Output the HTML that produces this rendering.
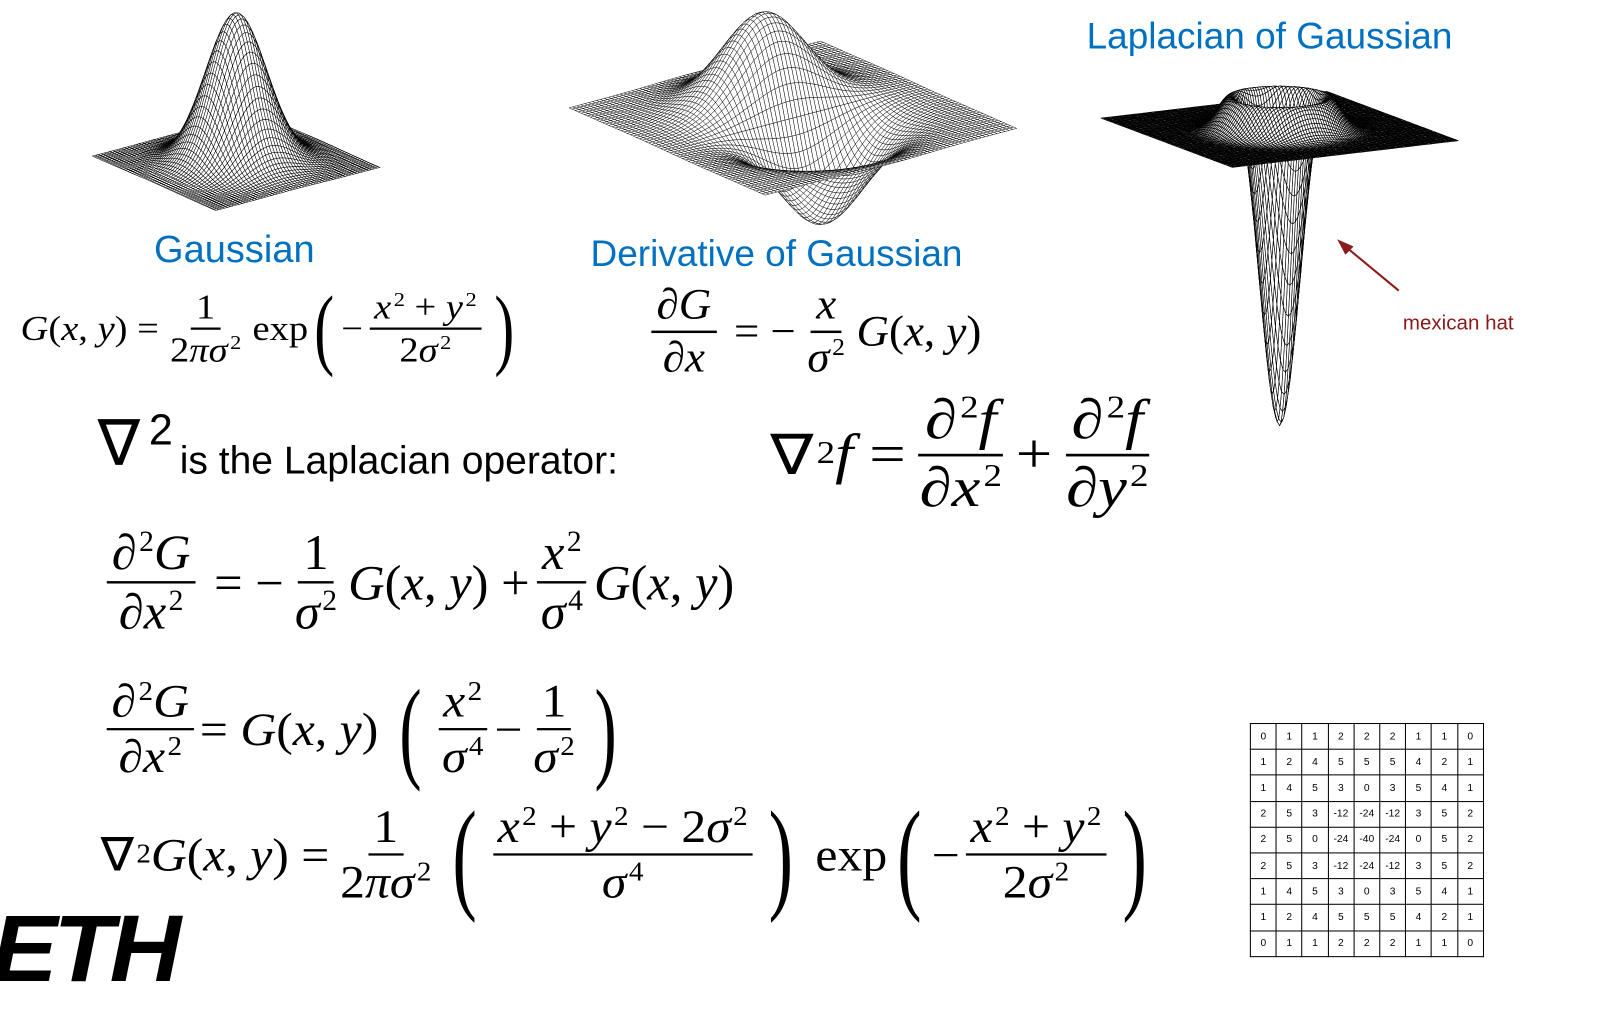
<!DOCTYPE html>
<html><head><meta charset="utf-8">
<style>
body{margin:0;width:1607px;height:984px;background:#fff;position:relative;overflow:hidden;font-family:"Liberation Serif",serif}
#w{position:absolute;left:0;top:0;width:1607px;height:984px;transform:scale(1.027);transform-origin:0 0}
.abs{position:absolute;white-space:nowrap}
.t{font-family:"Liberation Sans",sans-serif;color:#0070c0}
.m{font-family:"Liberation Serif",serif;display:flex;align-items:center;color:#000;transform-origin:left center}
.m i{font-style:italic}
.m sup{margin-left:2px}
.fr{display:inline-flex;flex-direction:column;align-items:center;margin:0 5px}
.fr>span{padding:0 4px;line-height:1.15}
.fr>span:first-child{border-bottom:2px solid #000}
.p{display:inline-block;font-weight:100}
table{border-collapse:collapse;font-family:"Liberation Sans",sans-serif;font-size:10px}
td{border:1.3px solid #000;width:24.2px;height:24.2px;text-align:center;padding:0}
</style></head><body>
<div id="w">
<svg id="sv" width="1607" height="984" style="position:absolute;left:0;top:0"></svg>

<div class="abs t" style="left:150px;top:222px;font-size:37px">Gaussian</div>
<div class="abs t" style="left:575px;top:226px;font-size:36px">Derivative of Gaussian</div>
<div class="abs t" style="left:1058px;top:14px;font-size:36px">Laplacian of Gaussian</div>
<div class="abs" style="left:1366px;top:304px;font-size:20px;color:#8b1a1a;font-family:'Liberation Sans',sans-serif">mexican hat</div>

<div class="abs m" style="left:20px;top:275px;height:90px;font-size:31px;transform:scale(1.21,1.1)">
<i>G</i>(<i>x</i>,&nbsp;<i>y</i>)&nbsp;=<span class="fr"><span>1</span><span>2<i>πσ</i><sup style="font-size:18px">2</sup></span></span>exp<span class="p" style="font-size:80px;transform:scaleX(.6)">(</span>−<span class="fr"><span><i>x</i><sup style="font-size:18px">2</sup> + <i>y</i><sup style="font-size:18px">2</sup></span><span>2<i>σ</i><sup style="font-size:18px">2</sup></span></span><span class="p" style="font-size:80px;transform:scaleX(.6)">)</span></div>

<div class="abs m" style="left:628px;top:275px;height:95px;font-size:35px;transform:scale(1.25,1.2)">
<span class="fr"><span>∂<i>G</i></span><span>∂<i>x</i></span></span>&nbsp;=&nbsp;−<span class="fr"><span><i>x</i></span><span><i>σ</i><sup style="font-size:20px">2</sup></span></span><i>G</i>(<i>x</i>,&nbsp;<i>y</i>)</div>

<div class="abs" style="left:95px;top:395px;font-size:62px;font-family:'DejaVu Sans',sans-serif">∇</div>
<div class="abs" style="left:145px;top:395px;font-size:42px;font-family:'Liberation Sans',sans-serif">2</div>
<div class="abs" style="left:175px;top:428px;font-size:38px;font-family:'Liberation Sans',sans-serif">is the Laplacian operator:</div>

<div class="abs m" style="left:750px;top:385px;height:115px;font-size:42px;transform:scale(1.5,1.3)">
∇<sup style="font-size:24px">2</sup><i>f</i>&nbsp;=<span class="fr"><span>∂<sup style="font-size:24px">2</sup><i>f</i></span><span>∂<i>x</i><sup style="font-size:24px">2</sup></span></span>+<span class="fr"><span>∂<sup style="font-size:24px">2</sup><i>f</i></span><span>∂<i>y</i><sup style="font-size:24px">2</sup></span></span></div>

<div class="abs m" style="left:98px;top:512px;height:110px;font-size:41px;transform:scale(1.2,1.18)">
<span class="fr"><span>∂<sup style="font-size:24px">2</sup><i>G</i></span><span>∂<i>x</i><sup style="font-size:24px">2</sup></span></span>&nbsp;=&nbsp;−<span class="fr"><span>1</span><span><i>σ</i><sup style="font-size:24px">2</sup></span></span><i>G</i>(<i>x</i>,&nbsp;<i>y</i>)&nbsp;+<span class="fr"><span><i>x</i><sup style="font-size:24px">2</sup></span><span><i>σ</i><sup style="font-size:24px">4</sup></span></span><i>G</i>(<i>x</i>,&nbsp;<i>y</i>)</div>

<div class="abs m" style="left:98px;top:655px;height:110px;font-size:41px;transform:scale(1.18,1.1)">
<span class="fr"><span>∂<sup style="font-size:24px">2</sup><i>G</i></span><span>∂<i>x</i><sup style="font-size:24px">2</sup></span></span>=&nbsp;<i>G</i>(<i>x</i>,&nbsp;<i>y</i>)&nbsp;<span class="p" style="font-size:100px;transform:scaleX(.55)">(</span><span class="fr"><span><i>x</i><sup style="font-size:24px">2</sup></span><span><i>σ</i><sup style="font-size:24px">4</sup></span></span>−<span class="fr"><span>1</span><span><i>σ</i><sup style="font-size:24px">2</sup></span></span><span class="p" style="font-size:100px;transform:scaleX(.55)">)</span></div>

<div class="abs m" style="left:98px;top:772px;height:120px;font-size:41px;transform:scale(1.18,1.1)">
∇<sup style="font-size:24px">2</sup><i>G</i>(<i>x</i>,&nbsp;<i>y</i>)&nbsp;=<span class="fr"><span>1</span><span>2<i>πσ</i><sup style="font-size:24px">2</sup></span></span><span class="p" style="font-size:110px;transform:scaleX(.55)">(</span><span class="fr"><span><i>x</i><sup style="font-size:24px">2</sup> + <i>y</i><sup style="font-size:24px">2</sup> − 2<i>σ</i><sup style="font-size:24px">2</sup></span><span><i>σ</i><sup style="font-size:24px">4</sup></span></span><span class="p" style="font-size:110px;transform:scaleX(.55)">)</span>&nbsp;exp<span class="p" style="font-size:110px;transform:scaleX(.55)">(</span>−<span class="fr"><span><i>x</i><sup style="font-size:24px">2</sup> + <i>y</i><sup style="font-size:24px">2</sup></span><span>2<i>σ</i><sup style="font-size:24px">2</sup></span></span><span class="p" style="font-size:110px;transform:scaleX(.55)">)</span></div>

<div class="abs" style="left:-4px;top:872px;font-size:92px;font-weight:bold;font-style:italic;font-family:'Liberation Sans',sans-serif;transform:scaleX(1.05);letter-spacing:-4px">ETH</div>

<div class="abs" style="left:1217px;top:704px">
<table id="tb"></table></div>
</div>
<script>
var g=[[0,1,1,2,2,2,1,1,0],[1,2,4,5,5,5,4,2,1],[1,4,5,3,0,3,5,4,1],[2,5,3,-12,-24,-12,3,5,2],[2,5,0,-24,-40,-24,0,5,2],[2,5,3,-12,-24,-12,3,5,2],[1,4,5,3,0,3,5,4,1],[1,2,4,5,5,5,4,2,1],[0,1,1,2,2,2,1,1,0]];
document.getElementById('tb').innerHTML=g.map(r=>'<tr>'+r.map(v=>'<td>'+v+'</td>').join('')+'</tr>').join('');
var sv=document.getElementById('sv'),out='';
function surf(cx,cy,a,b,c,d,f,N,sw){
 var P=[];for(var i=0;i<=N;i++){P[i]=[];for(var j=0;j<=N;j++){var u=-1+2*i/N,v=-1+2*j/N;P[i][j]=[cx+a*u+b*v,cy+c*u+d*v-f(u,v),c*u+d*v];}}
 var Q=[];for(var i=0;i<N;i++)for(var j=0;j<N;j++){var p=[P[i][j],P[i+1][j],P[i+1][j+1],P[i][j+1]];Q.push([(p[0][2]+p[2][2])/2,p]);}
 Q.sort((x,y)=>x[0]-y[0]);
 Q.forEach(q=>{out+='<polygon points="'+q[1].map(p=>p[0].toFixed(1)+','+p[1].toFixed(1)).join(' ')+'"/>';});
 return '<g fill="#fff" stroke="#000" stroke-width="'+sw+'">'+out+'</g>';
}
var s='';
out='';s+=surf(230,157.5,60,-80,26.5,21,(u,v)=>145*Math.exp(-(u*u+v*v)/(2*.09)),56,0.5);
out='';s+=surf(772,115,95.5,-122.5,42.5,32.5,(u,v)=>-90*u/.3*Math.exp(.5)*Math.exp(-(u*u+v*v)/(2*.09)),64,0.45);
out='';s+=surf(1246,126,64,-110,24,13,(u,v)=>{var r=Math.sqrt(u*u+v*v);return -290*Math.exp(-r*r/(2*.022))+48*Math.exp(-(r-.32)*(r-.32)/(2*.015));},90,0.6);
s+='<line x1="1362" y1="283" x2="1310" y2="240" stroke="#8b1a1a" stroke-width="2"/><polygon points="1302,233 1318,240 1310,248" fill="#8b1a1a"/>';
sv.innerHTML=s;
</script>
</body></html>
